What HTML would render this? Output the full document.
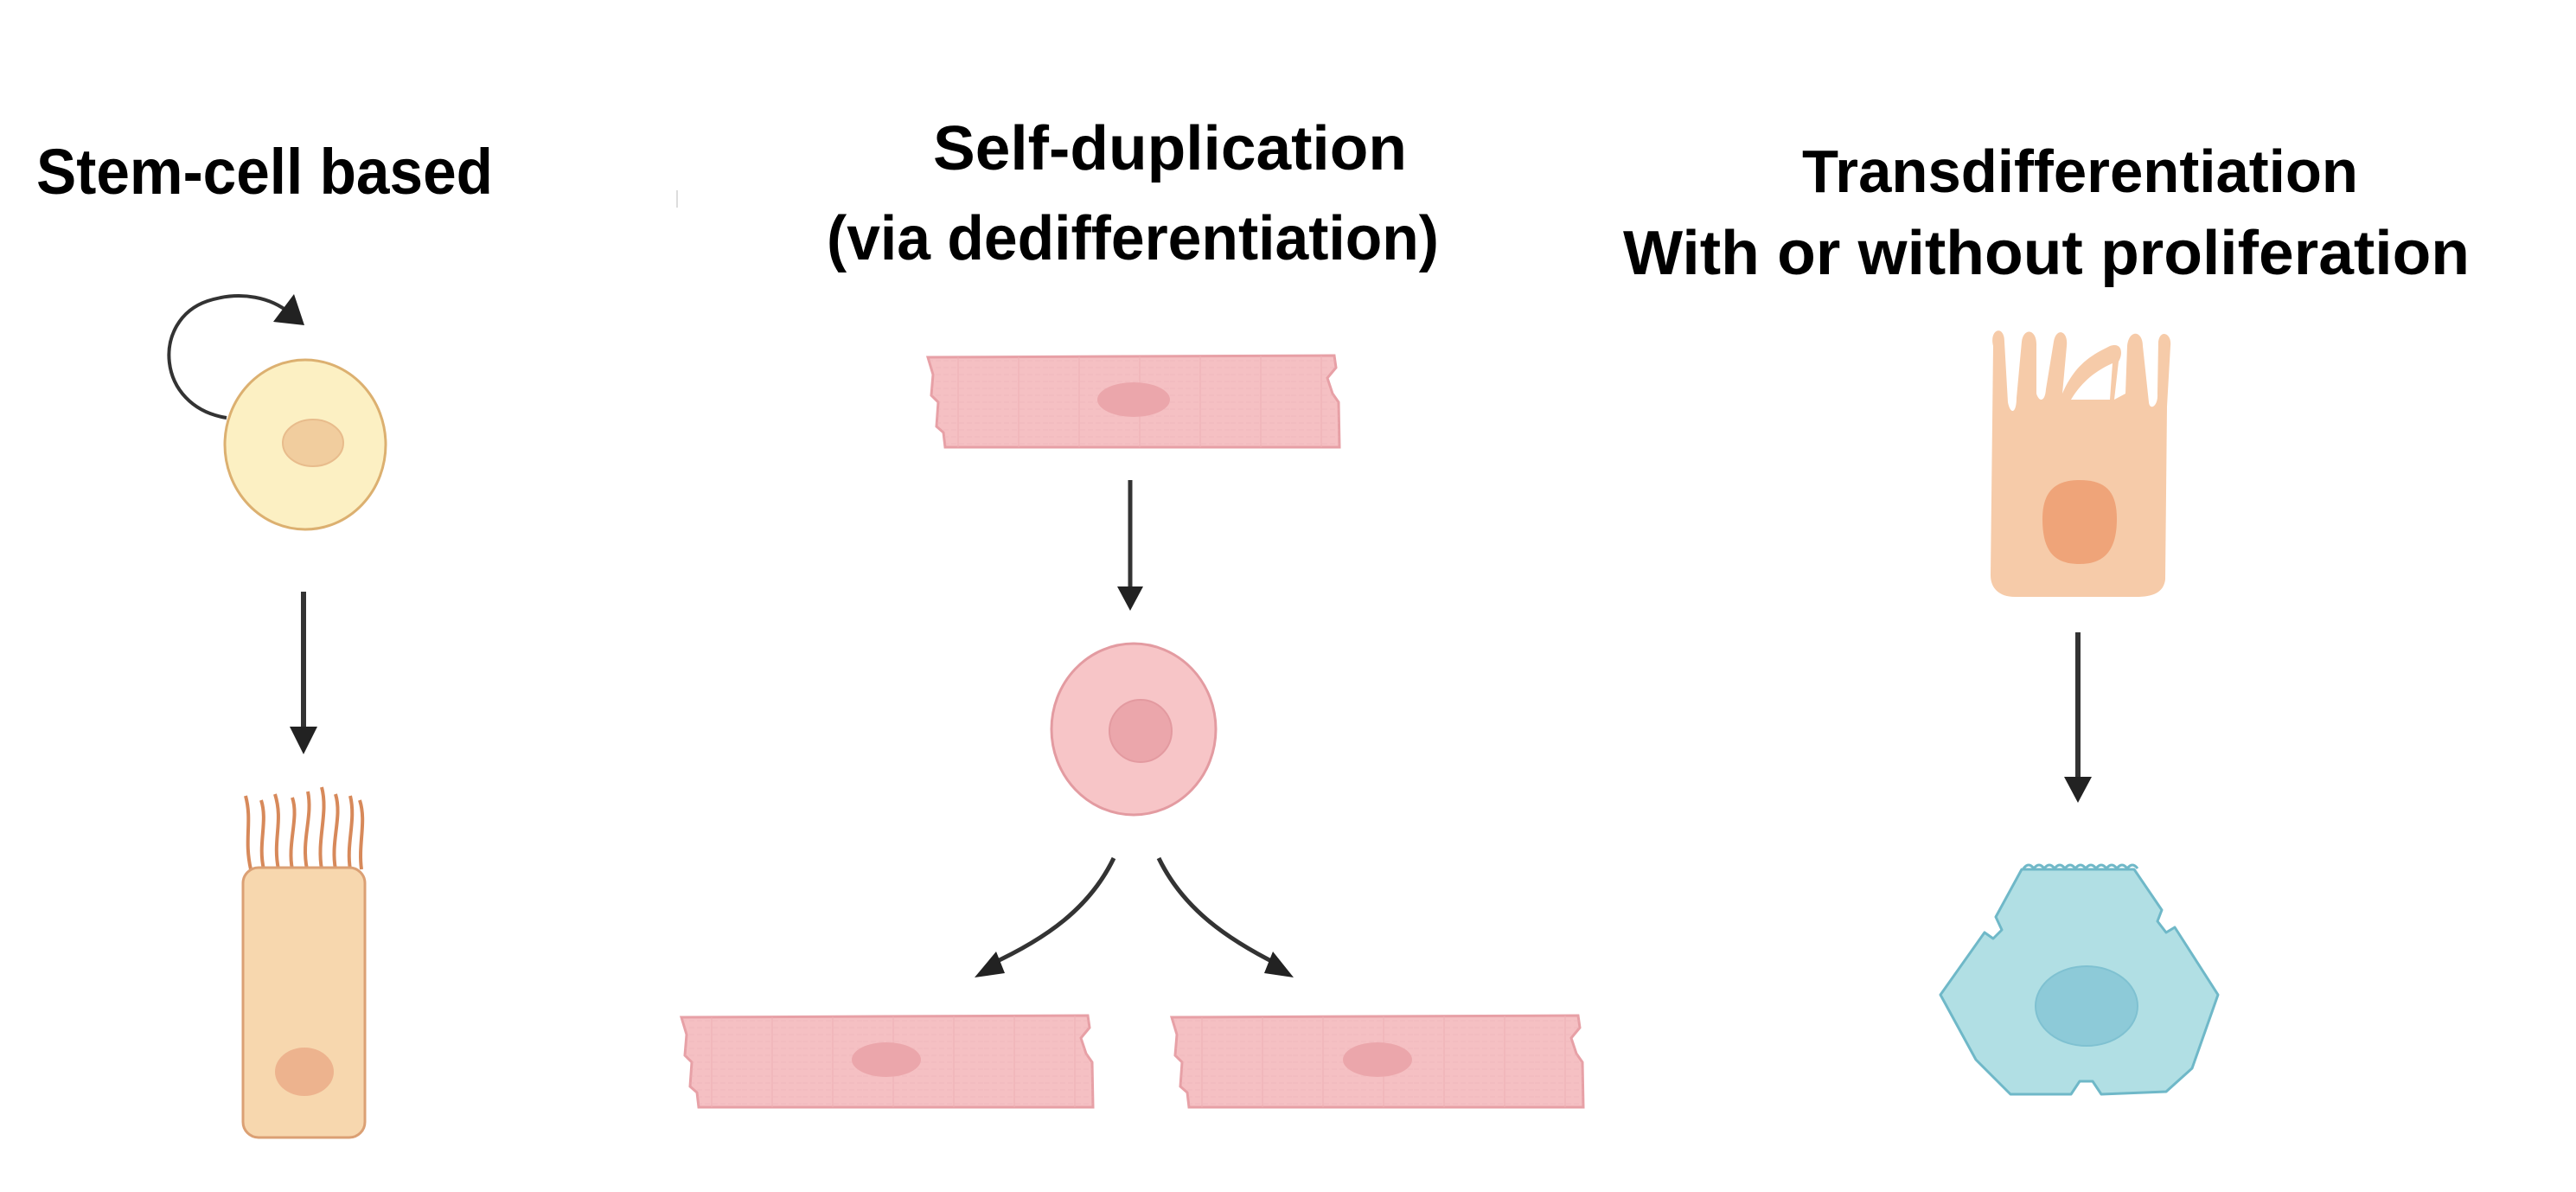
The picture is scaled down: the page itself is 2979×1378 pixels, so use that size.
<!DOCTYPE html>
<html><head><meta charset="utf-8"><style>
html,body{margin:0;padding:0;background:#fff;}
svg{display:block;}
text{font-family:"Liberation Sans",Arial,sans-serif;font-weight:bold;fill:#000;}
</style></head><body>
<svg width="2979" height="1378" viewBox="0 0 2979 1378" xmlns="http://www.w3.org/2000/svg">
<defs>
<pattern id="stri" width="70" height="8" patternUnits="userSpaceOnUse">
<line x1="0" y1="4" x2="70" y2="4" stroke="#eab0b4" stroke-width="1" stroke-dasharray="6 3"/>
<line x1="35" y1="0" x2="35" y2="8" stroke="#ecb0b4" stroke-width="2"/>
</pattern>
<g id="fiber">
<path d="M0,8 L470,6 L472,20 L462,32 L468,50 L475,60 L476,112 L20,112 L18,95 L10,88 L12,60 L4,52 L6,28 Z" fill="#f5c0c3" stroke="#e7a0a6" stroke-width="3"/>
<path d="M0,8 L470,6 L472,20 L462,32 L468,50 L475,60 L476,112 L20,112 L18,95 L10,88 L12,60 L4,52 L6,28 Z" fill="url(#stri)" opacity="0.5"/>
</g>
</defs>

<text x="42" y="224" font-size="74" textLength="528" lengthAdjust="spacingAndGlyphs">Stem-cell based</text>
<text x="1079" y="196" font-size="72" textLength="548" lengthAdjust="spacingAndGlyphs">Self-duplication</text>
<text x="956" y="300" font-size="72" textLength="708" lengthAdjust="spacingAndGlyphs">(via dedifferentiation)</text>
<text x="2084" y="222" font-size="70" textLength="643" lengthAdjust="spacingAndGlyphs">Transdifferentiation</text>
<text x="1877" y="317" font-size="72" textLength="979" lengthAdjust="spacingAndGlyphs">With or without proliferation</text>
<line x1="783" y1="220" x2="783" y2="240" stroke="#ddd" stroke-width="2"/>

<!-- Stem cell column -->
<path d="M262,483 C180,470 175,370 240,348 C280,335 315,345 335,362" fill="none" stroke="#333" stroke-width="4"/>
<polygon points="352,376 316,372 340,340" fill="#222"/>
<ellipse cx="353" cy="514" rx="93" ry="98" fill="#fcf0c3" stroke="#dcb070" stroke-width="3"/>
<ellipse cx="362" cy="512" rx="35" ry="27" fill="#f1cd9e" stroke="#e8bc8c" stroke-width="2"/>
<line x1="351" y1="684" x2="351" y2="842" stroke="#333" stroke-width="6"/>
<polygon points="335,840 367,840 351,872" fill="#222"/>
<g fill="none" stroke="#d7895a" stroke-width="4">
<path d="M290,1005 C282,970 292,950 284,920"/>
<path d="M305,1005 C298,975 310,950 302,925"/>
<path d="M322,1005 C315,970 328,950 318,918"/>
<path d="M338,1005 C332,975 346,945 338,922"/>
<path d="M355,1005 C348,970 362,945 356,915"/>
<path d="M372,1005 C366,970 380,940 372,910"/>
<path d="M388,1005 C382,972 396,945 388,918"/>
<path d="M405,1005 C400,975 412,948 405,920"/>
<path d="M418,1005 C414,975 424,950 416,925"/>
</g>
<rect x="281" y="1003" width="141" height="312" rx="18" fill="#f7d7ae" stroke="#dba074" stroke-width="3"/>
<ellipse cx="352" cy="1239" rx="34" ry="28" fill="#edb38e"/>

<!-- Self-duplication -->
<use href="#fiber" transform="translate(1073,405)"/>
<ellipse cx="1311" cy="462" rx="42" ry="20" fill="#eba6ab"/>
<line x1="1307" y1="555" x2="1307" y2="680" stroke="#333" stroke-width="5"/>
<polygon points="1292,678 1322,678 1307,706" fill="#222"/>
<ellipse cx="1311" cy="843" rx="95" ry="99" fill="#f7c5c7" stroke="#e39ba1" stroke-width="3"/>
<circle cx="1319" cy="845" r="36" fill="#eba6ab" stroke="#e39aa0" stroke-width="2"/>
<path d="M1288,992 C1260,1050 1210,1085 1145,1115" fill="none" stroke="#333" stroke-width="5"/>
<polygon points="1127,1130 1152,1100 1162,1125" fill="#222"/>
<path d="M1340,992 C1368,1050 1418,1085 1478,1115" fill="none" stroke="#333" stroke-width="5"/>
<polygon points="1496,1130 1462,1125 1472,1100" fill="#222"/>
<use href="#fiber" transform="translate(788,1168)"/>
<ellipse cx="1025" cy="1225" rx="40" ry="20" fill="#eba6ab"/>
<use href="#fiber" transform="translate(1355,1168)"/>
<ellipse cx="1593" cy="1225" rx="40" ry="20" fill="#eba6ab"/>

<!-- Transdifferentiation -->
<path d="M2305,400 C2300,380 2318,375 2318,395 L2322,465 C2325,480 2332,478 2332,460 L2338,395 C2340,378 2356,380 2355,400 L2355,455 C2358,465 2365,465 2366,450 L2375,395 C2378,378 2392,382 2390,400 L2385,455 C2400,420 2420,410 2440,400 C2455,395 2455,410 2450,418 L2445,462 L2458,455 L2460,400 C2462,380 2478,382 2478,400 L2485,465 C2486,475 2496,470 2495,455 L2496,395 C2498,380 2512,385 2510,400 L2506,470 L2504,670 C2502,685 2490,690 2470,690 L2330,690 C2312,690 2302,680 2302,665 Z M2395,462 L2440,462 L2443,420 C2420,430 2405,445 2395,462 Z" fill="#f6cba9" fill-rule="evenodd"/>
<path d="M2362,600 C2362,565 2380,555 2405,555 C2435,555 2448,568 2448,600 C2448,640 2430,652 2405,652 C2378,652 2362,640 2362,600 Z" fill="#efa479"/>
<line x1="2403" y1="731" x2="2403" y2="900" stroke="#333" stroke-width="6"/>
<polygon points="2387,898 2419,898 2403,928" fill="#222"/>
<path d="M2338,1005 L2468,1005 L2500,1052 L2495,1065 L2505,1078 L2515,1072 L2565,1150 L2535,1235 L2505,1262 L2430,1265 L2420,1250 L2405,1250 L2395,1265 L2325,1265 L2285,1225 L2244,1150 L2295,1078 L2305,1085 L2315,1075 L2308,1060 Z" fill="#b1dfe4" stroke="#6fb8c8" stroke-width="3" stroke-linejoin="round"/>
<path d="M2340,1004 q6,-8 12,0 q6,-8 12,0 q6,-8 12,0 q6,-8 12,0 q6,-8 12,0 q6,-8 12,0 q6,-8 12,0 q6,-8 12,0 q6,-8 12,0 q6,-8 12,0 q6,-8 12,0" fill="none" stroke="#6fb8c8" stroke-width="3"/>
<ellipse cx="2413" cy="1163" rx="59" ry="46" fill="#8dcad8" stroke="#7fc1d1" stroke-width="2"/>
</svg>
</body></html>
